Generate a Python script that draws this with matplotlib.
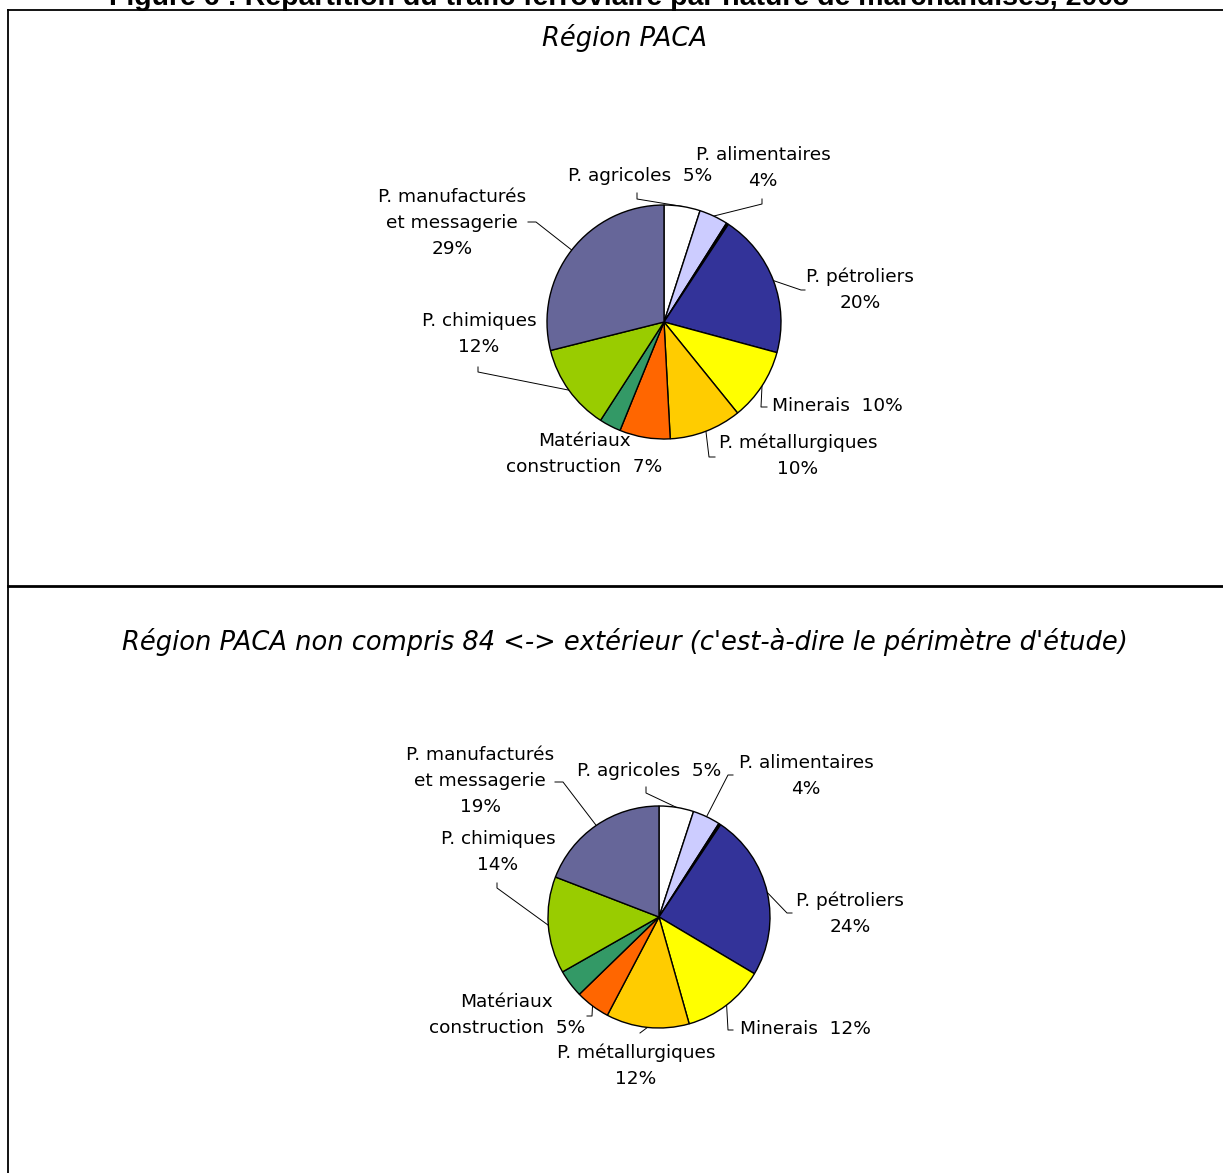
import numpy as np
import matplotlib.pyplot as plt

W, H = 1223, 1173

# catégories dans l'ordre horaire depuis midi (les deux sans libellé ne sont pas nommées sur le graphique)
categories = ['P. agricoles', 'P. alimentaires', '', 'P. pétroliers', 'Minerais',
              'P. métallurgiques', 'Matériaux construction', '', 'P. chimiques',
              'P. manufacturés et messagerie']
colors = ['#FFFFFF', '#CCCCFF', '#000000', '#333399', '#FFFF00', '#FFCC00',
          '#FF6600', '#339966', '#99CC00', '#666699']

# Région PACA (%)
paca_values = [5, 4, 0.3, 20, 10, 10, 7, 3, 12, 29]
paca_labels = ['P. agricoles  5%', 'P. alimentaires\n4%', None, 'P. pétroliers\n20%',
               'Minerais  10%', 'P. métallurgiques\n10%', 'Matériaux\nconstruction  7%',
               None, 'P. chimiques\n12%', 'P. manufacturés\net messagerie\n29%']

# Région PACA non compris 84 <-> extérieur (%)
perim_values = [5, 4, 0.3, 24, 12, 12, 5, 4, 14, 19]
perim_labels = ['P. agricoles  5%', 'P. alimentaires\n4%', None, 'P. pétroliers\n24%',
                'Minerais  12%', 'P. métallurgiques\n12%', 'Matériaux\nconstruction  5%',
                None, 'P. chimiques\n14%', 'P. manufacturés\net messagerie\n19%']

# mise en page (pixels, origine en haut à gauche)
paca_layout = dict(
    center=(664, 322), radius=117,
    label_pos=[(640, 176), (763, 168), None, (860, 290), (837, 406), (798, 456),
               (584, 454), None, (479, 334), (452, 223)],
    leaders=[[(637, 199), (637, 193)], [(762, 204), (762, 199)], None,
             [(801, 290), (805, 290)], [(761, 407), (767, 407)],
             [(709, 457), (715, 457)], None, None,
             [(478, 372), (478, 367)], [(536, 222), (528, 222)]])

perim_layout = dict(
    center=(659, 917), radius=111,
    label_pos=[(649, 771), (806, 776), None, (850, 914), (805, 1029), (636, 1066),
               (507, 1015), None, (498, 852), (480, 781)],
    leaders=[[(646, 793), (646, 787)], [(728, 775), (733, 775)], None,
             [(787, 913), (792, 913)], [(728, 1030), (733, 1030)],
             [(640, 1033)], [(592, 1016), (587, 1016)], None,
             [(497, 888), (497, 883)], [(563, 782), (555, 782)]])


def draw_pie(ax, values, labels, layout):
    cx, cy = layout['center'][0], H - layout['center'][1]
    r = layout['radius']
    wedges, _ = ax.pie(values, colors=colors, startangle=90, counterclock=False,
                       center=(cx, cy), radius=r, frame=True,
                       wedgeprops=dict(edgecolor='black', linewidth=1.0))
    for w, lab, pos, path in zip(wedges, labels, layout['label_pos'], layout['leaders']):
        if lab is None:
            continue
        ax.text(pos[0], H - pos[1], lab, ha='center', va='center',
                multialignment='center', fontsize=13.3, linespacing=1.55,
                family='DejaVu Sans')
        if path:
            ang = np.deg2rad((w.theta1 + w.theta2) / 2)
            xs = [cx + r * np.cos(ang)] + [p[0] for p in path]
            ys = [cy + r * np.sin(ang)] + [H - p[1] for p in path]
            ax.plot(xs, ys, color='black', lw=0.7, zorder=0.5)


fig = plt.figure(figsize=(W / 100, H / 100), dpi=100)
ax = fig.add_axes([0, 0, 1, 1])

draw_pie(ax, paca_values, paca_labels, paca_layout)
draw_pie(ax, perim_values, perim_labels, perim_layout)

ax.set_xlim(0, W)
ax.set_ylim(0, H)
ax.set_aspect('auto')
ax.axis('off')

# cadre du tableau
ax.plot([8, 8], [H - 10, -10], color='black', lw=1.3, clip_on=False)
ax.plot([8, W + 10], [H - 10, H - 10], color='black', lw=1.3, clip_on=False)
ax.plot([8, W + 10], [H - 586, H - 586], color='black', lw=2.0, clip_on=False)

# titre de la figure, coupé en haut comme sur l'original
ax.text(619, H - 5, 'Figure 6 : Répartition du trafic ferroviaire par nature de marchandises, 2003',
        ha='center', va='baseline', fontsize=20.5, fontweight='bold', family='Liberation Sans')
ax.text(625, H - 38, 'Région PACA', ha='center', va='center', fontsize=18.5,
        style='italic', family='DejaVu Sans')
ax.text(625, H - 642, "Région PACA non compris 84 <-> extérieur (c'est-à-dire le périmètre d'étude)",
        ha='center', va='center', fontsize=18.5, style='italic', family='DejaVu Sans')

fig.savefig('out.png', dpi=100)
